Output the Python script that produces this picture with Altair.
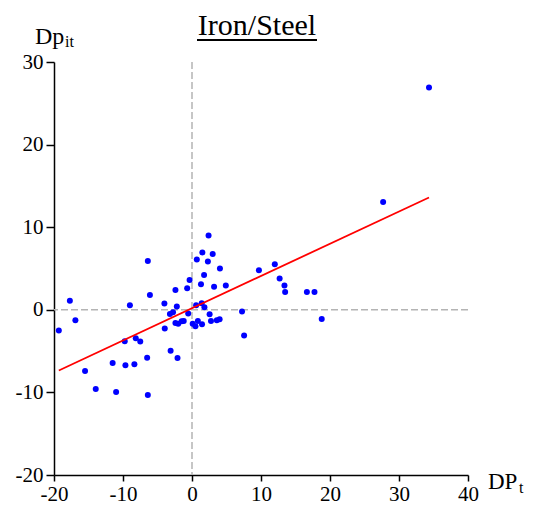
import altair as alt
import pandas as pd

# DP_t (x) and Dp_it (y)
dp_t = [-6.4, -17.7, -6.1, -9.0, -16.9, -19.3, -4.0, -2.4, -0.35, -0.7,
        -2.2, -3.2, -2.75, -0.55, -3.95, -2.4, -2.0, -1.5, -1.2, 0.1,
        0.5, 0.85, -9.75, -8.15, -7.5, -3.1, -6.5, -2.1, -11.5, -9.65,
        -8.35, -15.5, -13.95, -11.0, -6.4, 2.4, 1.5, 3.0, 0.7, 2.3,
        4.05, 9.7, 1.75, 1.3, 3.2, 4.9, 0.6, 1.4, 1.8, 7.25,
        2.55, 1.45, 2.75, 3.6, 4.0, 7.55, 12.0, 12.7, 13.4, 13.5,
        16.65, 17.75, 18.8, 27.7, 34.35]
dp_it = [5.9, 1.1, 1.8, 0.55, -1.25, -2.5, 0.75, 2.4, 3.6, 2.6,
         0.4, -0.5, -0.3, -0.45, -2.25, -1.6, -1.7, -1.4, -1.35, -1.7,
         -2.0, -1.35, -3.8, -3.45, -3.85, -4.95, -5.8, -5.85, -6.45, -6.7,
         -6.6, -7.4, -9.6, -9.95, -10.3, 9.0, 6.95, 6.75, 6.1, 5.85,
         5.0, 4.8, 4.2, 3.1, 2.8, 2.95, 0.55, 0.8, 0.3, -0.2,
         -0.55, -1.75, -1.35, -1.25, -1.15, -3.1, 5.5, 3.8, 2.95, 2.15,
         2.15, 2.15, -1.1, 13.05, 26.9]

# fitted line end points
fit_x = [-19.3, 34.35]
fit_y = [-7.35, 13.6]

x_ticks = [-20, -10, 0, 10, 20, 30, 40]
y_ticks = [-20, -10, 0, 10, 20, 30]

SERIF = "Liberation Serif"

pts = pd.DataFrame({"x": dp_t, "y": dp_it})
fit = pd.DataFrame({"x": fit_x, "y": fit_y})
zero = pd.DataFrame({"v": [0]})

xscale = alt.Scale(domain=[-20, 40], nice=False, zero=False)
yscale = alt.Scale(domain=[-20, 30], nice=False, zero=False)

xaxis = alt.Axis(values=x_ticks, grid=False, title=None, labelExpr="'' + datum.value",
                 domainColor="black", domainWidth=1.5, tickColor="black", tickWidth=1.5,
                 tickSize=6, labelFont=SERIF, labelFontSize=21, labelColor="black",
                 labelPadding=2, labelFlush=False)
yaxis = alt.Axis(values=y_ticks, grid=False, title=None, labelExpr="'' + datum.value",
                 domainColor="black", domainWidth=1.5, tickColor="black", tickWidth=1.5,
                 tickSize=8, labelFont=SERIF, labelFontSize=21, labelColor="black",
                 labelPadding=3, labelFlush=False)

vline = alt.Chart(zero).mark_rule(color="#b4b4b4", strokeWidth=1.5, strokeDash=[7, 3]).encode(
    x=alt.X("v:Q", scale=xscale, axis=xaxis)
)
hline = alt.Chart(zero).mark_rule(color="#b4b4b4", strokeWidth=1.5, strokeDash=[7, 3]).encode(
    y=alt.Y("v:Q", scale=yscale, axis=yaxis)
)

dots = alt.Chart(pts).mark_circle(size=36, color="#0000ff", opacity=1).encode(
    x=alt.X("x:Q", scale=xscale, axis=xaxis),
    y=alt.Y("y:Q", scale=yscale, axis=yaxis),
)

line = alt.Chart(fit).mark_line(color="#ff0000", strokeWidth=1.8).encode(
    x=alt.X("x:Q", scale=xscale, axis=xaxis),
    y=alt.Y("y:Q", scale=yscale, axis=yaxis),
)

# title and axis labels with subscripts
def label(text, x, y, size, align="left"):
    return alt.Chart(zero).mark_text(text=text, font=SERIF, fontSize=size, color="black",
                                     align=align, baseline="alphabetic").encode(
        x=alt.value(x), y=alt.value(y)
    )

title = label("Iron/Steel", 203, -27, 30, align="center")
underline = alt.Chart(zero).mark_rule(color="black", strokeWidth=2).encode(
    x=alt.value(143), x2=alt.value(263), y=alt.value(-22)
)
ylab = label("Dp", -19, -18, 24)
ylab_sub = label("it", 11, -15.5, 16)
xlab = label("DP", 434, 427, 23)
xlab_sub = label("t", 465, 431, 16)

chart = alt.layer(
    vline, hline, dots, line, title, underline, ylab, ylab_sub, xlab, xlab_sub
).properties(
    width=414, height=413,
    autosize=alt.AutoSizeParams(type="none"),
    padding={"left": 46, "top": 54, "right": 59, "bottom": 32},
).configure(background="white", view=alt.ViewConfig(stroke=None))

chart.save("out.html", embed_options={"renderer": "svg", "actions": False})
